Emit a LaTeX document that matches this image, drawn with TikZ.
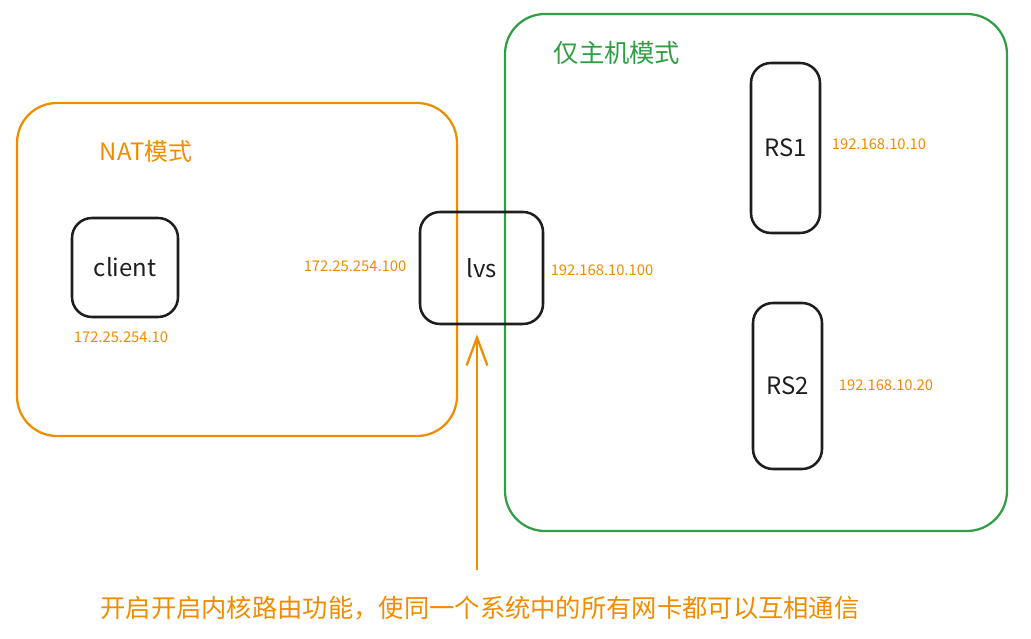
\documentclass[tikz,border=0pt]{standalone}
\usepackage{fontspec}
\setmainfont{Noto Sans CJK SC}
\usetikzlibrary{arrows.meta}
\definecolor{zoneorange}{HTML}{F08C00}
\definecolor{zonegreen}{HTML}{2F9E44}
\definecolor{inkblack}{HTML}{1E1E1E}
\begin{document}
\begin{tikzpicture}[
    zone/.style={rectangle, draw, line width=1.6pt, rounded corners=1cm},
    host/.style={rectangle, draw=inkblack, line width=1.8pt, rounded corners=0.5cm, font=\fontsize{17}{19}\selectfont, text=inkblack},
    addr/.style={text=zoneorange, font=\fontsize{10.5}{12}\selectfont},
    note/.style={font=\fontsize{18}{21}\selectfont}
  ]
      \useasboundingbox (0,0) rectangle (25.775,-15.975);
      \node[zone, draw=zoneorange, minimum width=11cm, minimum height=8.325cm] (nat) at (5.925, -6.7375) {};
      \node[zone, draw=zonegreen, minimum width=12.55cm, minimum height=12.925cm] (hostonly) at (18.9, -6.8125) {};
      \node[note, text=zoneorange, font=\fontsize{17}{20}\selectfont] (natlabel) at (3.65, -3.775) {NAT模式};
      \node[note, text=zonegreen] (hostlabel) at (15.425, -1.325) {仅主机模式};

      \node[host, minimum width=2.65cm, minimum height=2.475cm] (client) at (3.125, -6.6875) {client};
      \node[host, minimum width=3.075cm, minimum height=2.8cm] (lvs) at (12.0375, -6.7) {lvs};
      \node[host, minimum width=1.725cm, minimum height=4.25cm] (rs1) at (19.6375, -3.7) {RS1};
      \node[host, minimum width=1.725cm, minimum height=4.15cm] (rs2) at (19.6875, -9.65) {RS2};

      \node[addr] (ipclient) at (3.025, -8.425) {172.25.254.10};
      \node[addr] (iplvsnat) at (8.875, -6.65) {172.25.254.100};
      \node[addr] (iplvshost) at (15.05, -6.75) {192.168.10.100};
      \node[addr] (iprs1) at (21.975, -3.6) {192.168.10.10};
      \node[addr] (iprs2) at (22.15, -9.625) {192.168.10.20};

      \node[note, text=zoneorange] (routing) at (12.0, -15.2) {开启开启内核路由功能，使同一个系统中的所有网卡都可以互相通信};
      \coordinate (tail) at (11.925, -14.25);
      \draw[zoneorange, line width=1.6pt, -{Straight Barb[length=7mm, width=5.2mm]}, shorten >=0.225cm] (tail) -- (tail |- lvs.south);
    \end{tikzpicture}
\end{document}
